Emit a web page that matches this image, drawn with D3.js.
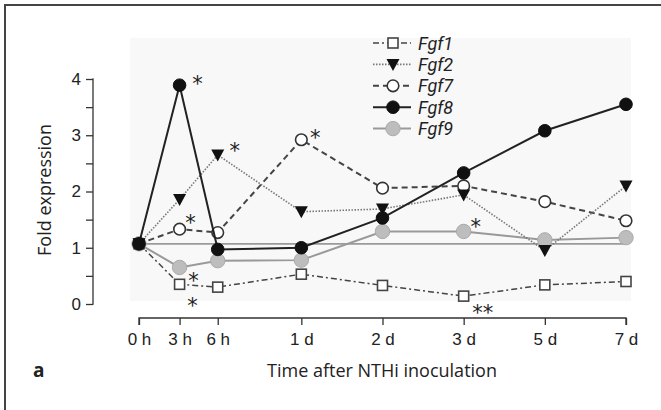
<!DOCTYPE html>
<html>
<head>
<meta charset="utf-8">
<script src="https://cdn.jsdelivr.net/npm/d3@7"></script>
<style>
  html, body { margin: 0; padding: 0; background: #fff; }
  svg { display: block; font-family: "Open Sans", "Noto Sans", sans-serif; }
</style>
</head>
<body>
<div id="chart"></div>
<script>
let timeLabels = ['0 h', '3 h', '6 h', '1 d', '2 d', '3 d', '5 d', '7 d'];
let timePos = [0, 0.5, 0.97, 2, 3, 4, 5, 6];

let fgf1 = [1.07, 0.35, 0.30, 0.53, 0.33, 0.14, 0.34, 0.40];
let fgf2 = [1.07, 1.86, 2.65, 1.64, 1.69, 1.94, 0.95, 2.10];
let fgf7 = [1.07, 1.33, 1.27, 2.92, 2.06, 2.10, 1.82, 1.48];
let fgf8 = [1.07, 3.89, 0.97, 1.00, 1.53, 2.33, 3.08, 3.55];
let fgf9 = [1.07, 0.65, 0.77, 0.78, 1.29, 1.29, 1.14, 1.18];
let baseline = 1.07;

let seriesNames = ['Fgf1', 'Fgf2', 'Fgf7', 'Fgf8', 'Fgf9'];
let yTicks = [0, 0.5, 1, 1.5, 2, 2.5, 3, 3.5, 4];

// significance marks: series, time index, text
let stars = [
    ['Fgf8', 1, '*'],
    ['Fgf7', 1, '*'],
    ['Fgf9', 1, '*'],
    ['Fgf1', 1, '*'],
    ['Fgf2', 2, '*'],
    ['Fgf7', 3, '*'],
    ['Fgf9', 5, '*'],
    ['Fgf1', 5, '**']
];

let styles = {
    Fgf1: { stroke: '#444', width: 1.5, dash: '6,3,2,3', marker: 'square', fill: '#fff', mstroke: '#444' },
    Fgf2: { stroke: '#777', width: 1.6, dash: '1.5,1.5', marker: 'triangle', fill: '#111', mstroke: '#111' },
    Fgf7: { stroke: '#444', width: 2, dash: '6,4', marker: 'circle-open', fill: '#fff', mstroke: '#333' },
    Fgf8: { stroke: '#222', width: 2, dash: null, marker: 'circle', fill: '#111', mstroke: '#111' },
    Fgf9: { stroke: '#999', width: 2, dash: null, marker: 'circle-gray', fill: '#bdbdbd', mstroke: '#aaa' }
};

function getConfiguration(div) {
    let width = 661, height = 410;
    let svg = d3.select(div).append('svg')
        .attr('width', width)
        .attr('height', height);
    let xScaler = d3.scaleLinear().domain([0, 6]).range([139, 626]);
    let yScaler = d3.scaleLinear().domain([0, 4]).range([304, 79]);
    return { svg, width, height, xScaler, yScaler };
}

function buildSeries() {
    let values = [fgf1, fgf2, fgf7, fgf8, fgf9];
    return seriesNames.map((name, i) => ({
        name: name,
        points: values[i].map((v, j) => ({ x: timePos[j], y: v }))
    }));
}

function drawFrame(config) {
    let { svg, width, height } = config;
    svg.append('path')
        .attr('d', `M5,${height} L5,5 L${width},5`)
        .attr('fill', 'none')
        .attr('stroke', '#444')
        .attr('stroke-width', 2);
    svg.append('rect')
        .attr('x', 130).attr('y', 38)
        .attr('width', 501).attr('height', 263)
        .attr('fill', '#f8f8f8');
}

function drawAxes(config) {
    let { svg, xScaler, yScaler } = config;

    let yAxis = d3.axisLeft(yScaler)
        .tickValues(yTicks)
        .tickSize(7)
        .tickPadding(5)
        .tickFormat(d => Number.isInteger(d) ? d : '');
    let gy = svg.append('g')
        .attr('class', 'y-axis')
        .attr('transform', 'translate(93,0)')
        .call(yAxis);
    gy.select('.domain').attr('d', `M-0.5,${yScaler(4)}H0V${yScaler(0)}H-0.5`);

    let xAxis = d3.axisBottom(xScaler)
        .tickValues(timePos)
        .tickSize(7)
        .tickPadding(8)
        .tickFormat((d, i) => timeLabels[i]);
    let gx = svg.append('g')
        .attr('class', 'x-axis')
        .attr('transform', 'translate(0,318)')
        .call(xAxis);
    gx.select('.domain').attr('d', `M${xScaler(0)},7V0H${xScaler(6)}V7`);

    svg.selectAll('.domain, .tick line')
        .attr('stroke', '#333')
        .attr('stroke-width', 1.3);
    svg.selectAll('.tick text')
        .attr('fill', '#222')
        .style('font-size', '17px');

    svg.append('text')
        .attr('transform', 'translate(51,190) rotate(-90)')
        .attr('text-anchor', 'middle')
        .attr('fill', '#222')
        .style('font-size', '18px')
        .text('Fold expression');

    svg.append('text')
        .attr('x', 382).attr('y', 377)
        .attr('text-anchor', 'middle')
        .attr('fill', '#222')
        .style('font-size', '18px')
        .text('Time after NTHi inoculation');

    svg.append('text')
        .attr('x', 33).attr('y', 377)
        .attr('fill', '#222')
        .style('font-size', '19px')
        .style('font-weight', 'bold')
        .text('a');
}

function drawMarker(g, style, x, y) {
    if (style.marker === 'square') {
        g.append('rect')
            .attr('x', x - 5).attr('y', y - 5)
            .attr('width', 10).attr('height', 10)
            .attr('fill', style.fill)
            .attr('stroke', style.mstroke)
            .attr('stroke-width', 1.6);
    } else if (style.marker === 'triangle') {
        g.append('path')
            .attr('d', `M${x - 6.5},${y - 5.5}L${x + 6.5},${y - 5.5}L${x},${y + 6.5}Z`)
            .attr('fill', style.fill);
    } else if (style.marker === 'circle-open') {
        g.append('circle')
            .attr('cx', x).attr('cy', y).attr('r', 5.8)
            .attr('fill', style.fill)
            .attr('stroke', style.mstroke)
            .attr('stroke-width', 1.6);
    } else {
        g.append('circle')
            .attr('cx', x).attr('cy', y)
            .attr('r', style.marker === 'circle-gray' ? 7.2 : 6.3)
            .attr('fill', style.fill)
            .attr('stroke', style.mstroke)
            .attr('stroke-width', 1);
    }
}

function drawSeries(config, series) {
    let { svg, xScaler, yScaler } = config;

    svg.append('line')
        .attr('x1', xScaler(0)).attr('x2', xScaler(6))
        .attr('y1', yScaler(baseline)).attr('y2', yScaler(baseline))
        .attr('stroke', '#9a9a9a')
        .attr('stroke-width', 1.8);

    let line = d3.line()
        .x(d => xScaler(d.x))
        .y(d => yScaler(d.y));

    // draw in reverse so Fgf8 ends on top of the grey ones
    let order = ['Fgf9', 'Fgf1', 'Fgf7', 'Fgf2', 'Fgf8'];
    order.forEach(name => {
        let s = series.find(d => d.name === name);
        let st = styles[name];
        let g = svg.append('g').attr('class', 'series-' + name);
        g.append('path')
            .datum(s.points)
            .attr('d', line)
            .attr('fill', 'none')
            .attr('stroke', st.stroke)
            .attr('stroke-width', st.width)
            .attr('stroke-dasharray', st.dash);
        s.points.forEach(p => drawMarker(g, st, xScaler(p.x), yScaler(p.y)));
    });
}

function drawStars(config, series) {
    let { svg, xScaler, yScaler } = config;
    // offset of the star centre from its point, by series and time
    let offsets = {
        'Fgf8-1': [18, -7], 'Fgf7-1': [11, -12], 'Fgf9-1': [14, 8], 'Fgf1-1': [13, 16],
        'Fgf2-2': [17, -9], 'Fgf7-3': [14, -7], 'Fgf9-5': [12, -10], 'Fgf1-5': [19, 11]
    };
    stars.forEach(([name, idx, label]) => {
        let s = series.find(d => d.name === name);
        let p = s.points[idx];
        let [dx, dy] = offsets[name + '-' + idx];
        svg.append('text')
            .attr('x', xScaler(p.x) + dx)
            .attr('y', yScaler(p.y) + dy + 12.5)
            .attr('text-anchor', 'middle')
            .attr('fill', '#222')
            .style('font-family', 'DejaVu Sans, sans-serif')
            .style('font-size', '21px')
            .text(label);
    });
}

function drawLegend(config) {
    let { svg } = config;
    let legend = svg.append('g').attr('class', 'legend');
    seriesNames.forEach((name, i) => {
        let st = styles[name];
        let y = 43 + i * 21.4;
        let g = legend.append('g');
        g.append('line')
            .attr('x1', 373).attr('x2', 411)
            .attr('y1', y).attr('y2', y)
            .attr('stroke', st.stroke)
            .attr('stroke-width', st.width)
            .attr('stroke-dasharray', st.dash);
        drawMarker(g, st, 393, y);
        g.append('text')
            .attr('x', 418).attr('y', y + 6.5)
            .attr('fill', '#222')
            .style('font-family', 'Roboto, sans-serif')
            .style('font-size', '18px')
            .style('font-style', 'italic')
            .text(name);
    });
}

function drawLineChart(div) {
    let config = getConfiguration(div);
    let series = buildSeries();
    drawFrame(config);
    drawAxes(config);
    drawSeries(config, series);
    drawStars(config, series);
    drawLegend(config);
}

drawLineChart('#chart');
</script>
</body>
</html>
